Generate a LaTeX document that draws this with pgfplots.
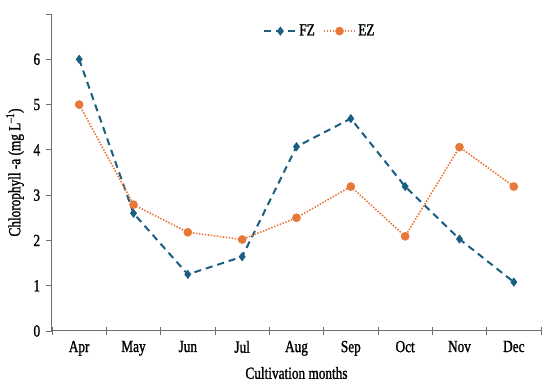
\documentclass[border=0pt]{standalone}
\usepackage{fontspec}
\setmainfont[FakeStretch=0.78,FakeBold=1.2]{Liberation Serif}
\usepackage{pgfplots}
\pgfplotsset{compat=1.18}
\definecolor{fzc}{HTML}{1B5E80}
\definecolor{ezc}{HTML}{E8783A}
\definecolor{axc}{HTML}{6E6E6E}
\begin{document}
\fontsize{17pt}{20pt}\selectfont
\begin{tikzpicture}
\useasboundingbox (-52pt,-57pt) rectangle (498pt,331pt);
\begin{axis}[
  at={(0pt,0pt)}, anchor=south west,
  scale only axis, width=489pt, height=317pt,
  xmin=-0.5, xmax=8.5, ymin=0, ymax=7,
  axis lines=left, axis line style={axc, line width=1pt, -},
  xtick={0,1,2,3,4,5,6,7,8},
  xticklabels={Apr,May,Jun,Jul,Aug,Sep,Oct,Nov,Dec},
  major x tick style={draw=none},
  minor xtick={-0.5,0.5,1.5,2.5,3.5,4.5,5.5,6.5,7.5,8.5},
  minor x tick style={axc, line width=0.8pt},
  minor tick length=8pt,
  ytick={0,1,2,3,4,5,6,7},
  yticklabels={0,1,2,3,4,5,6,{}},
  y tick style={axc, line width=0.8pt},
  ytick align=outside, major tick length=6pt,
  tick label style={font=\fontsize{17pt}{20pt}\selectfont},
  xticklabel style={yshift=-1pt},
  /pgf/number format/assume math mode=true,
  xlabel={Cultivation months},
  ylabel={Chlorophyll -a (mg L\textsuperscript{–1})},
  label style={font=\fontsize{17pt}{20pt}\selectfont},
  xlabel style={at={(axis description cs:0.5,0)}, anchor=center, yshift=-42pt},
  ylabel style={at={(axis description cs:0,0.5)}, anchor=center, yshift=37pt},
  legend style={draw=none, fill=none, at={(0.548,0.946)}, anchor=center,
    legend columns=2, font=\fontsize{17pt}{20pt}\selectfont,
    /tikz/every even column/.append style={column sep=6pt}},
  legend image code/.code={\draw[mark repeat=2,mark phase=2,#1] plot coordinates {(0cm,0cm) (0.56cm,0cm) (1.12cm,0cm)};},
  legend cell align=left,
  clip=false,
]
\addplot[fzc, line width=2pt, dash pattern=on 7pt off 5pt, mark=diamond*, mark size=3pt, mark options={solid, fill=fzc}]
  coordinates {(0,6.0) (1,2.6) (2,1.25) (3,1.64) (4,4.07) (5,4.69) (6,3.19) (7,2.03) (8,1.08)};
\addlegendentry{FZ}
\addplot[ezc, line width=1.6pt, dash pattern=on 1.5pt off 1.5pt, mark=*, mark size=3.5pt, mark options={solid, fill=ezc}]
  coordinates {(0,5.0) (1,2.79) (2,2.18) (3,2.02) (4,2.5) (5,3.19) (6,2.09) (7,4.06) (8,3.19)};
\addlegendentry{EZ}
\end{axis}
\end{tikzpicture}
\end{document}
